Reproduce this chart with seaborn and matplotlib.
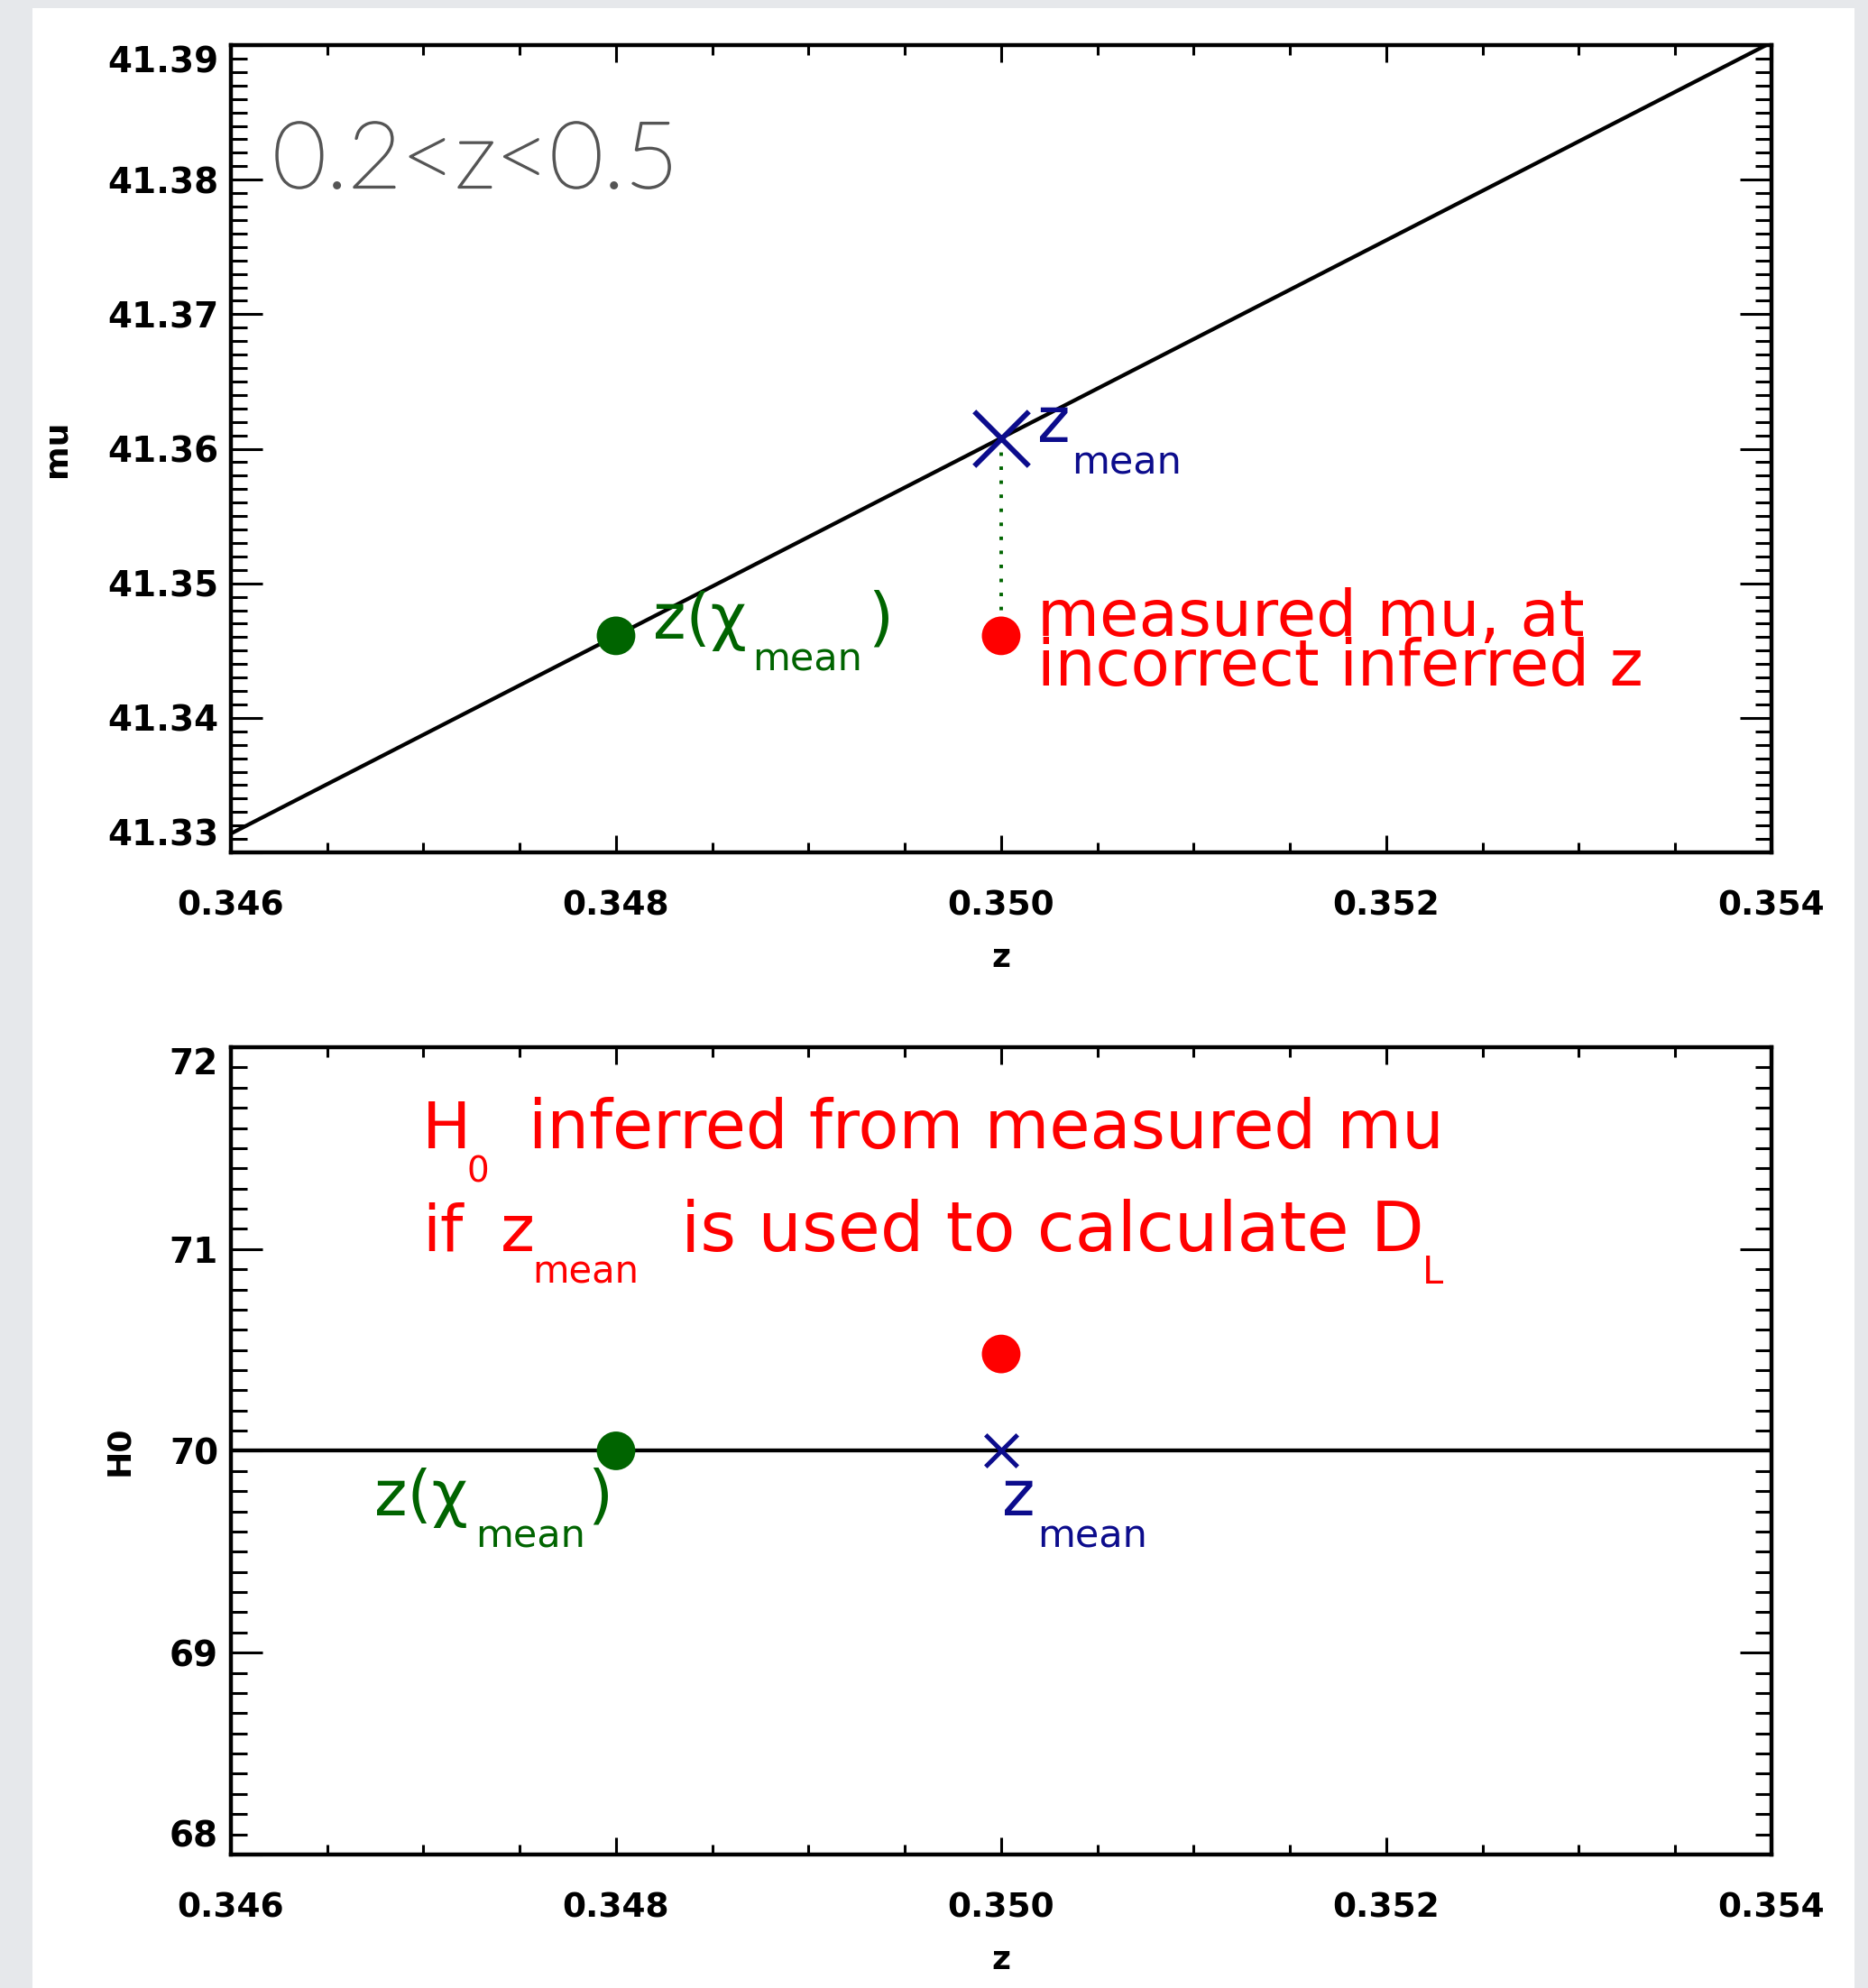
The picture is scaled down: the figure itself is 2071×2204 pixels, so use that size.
import matplotlib
matplotlib.use("Agg")
import matplotlib.pyplot as plt
import matplotlib.ticker as mticker
import matplotlib.patheffects as pe
from matplotlib.patches import Rectangle
import seaborn as sns

# data
z_ticks = [0.346, 0.348, 0.350, 0.352, 0.354]
mu_ticks = [41.33, 41.34, 41.35, 41.36, 41.37, 41.38, 41.39]
h0_ticks = [68, 69, 70, 71, 72]

z_line = [0.346, 0.348, 0.350, 0.352, 0.354]
mu_line = [41.3314, 41.3461, 41.3608, 41.3755, 41.3902]
h0_line = [70.0, 70.0, 70.0, 70.0, 70.0]

z_chi_mean = 0.348
z_mean = 0.350
mu_chi_mean = 41.3461
mu_zmean = 41.3608
mu_measured = 41.3461

h0_chi_mean = 70.0
h0_zmean = 70.0
h0_measured = 70.48

GREEN = "#006400"
NAVY = "#0c0c8c"
RED = "#ff0000"

plt.rcParams["font.family"] = ["DejaVu Sans"]

fig = plt.figure(figsize=(20.71, 22.04), dpi=100, facecolor="#e6e8eb")
fig.patches.append(Rectangle((36 / 2071, 0), (2056 - 36) / 2071, (2204 - 9) / 2204,
                             transform=fig.transFigure, facecolor="white",
                             edgecolor="none", zorder=-10))

ax1 = fig.add_axes([0.1236, 0.5712, 0.8247, 0.4061])
ax2 = fig.add_axes([0.1236, 0.0672, 0.8247, 0.4060])


def style_axes(ax, yticks, ymin_step, yfmt, xlabel, ylabel):
    ax.set_xlim(z_ticks[0], z_ticks[-1])
    ax.set_ylim(yticks[0], yticks[-1])
    ax.set_xticks(z_ticks)
    ax.set_yticks(yticks)
    ax.xaxis.set_minor_locator(mticker.MultipleLocator(0.0005))
    ax.yaxis.set_minor_locator(mticker.MultipleLocator(ymin_step))
    ax.xaxis.set_major_formatter(mticker.FormatStrFormatter("%.3f"))
    ax.yaxis.set_major_formatter(mticker.FormatStrFormatter(yfmt))
    for s in ax.spines.values():
        s.set_linewidth(3.2)
    ax.tick_params(which="both", direction="in", top=True, right=True, width=2.2)
    ax.tick_params(axis="x", which="major", length=13.5, pad=30, labelsize=27)
    ax.tick_params(axis="x", which="minor", length=8)
    ax.tick_params(axis="y", which="major", length=25, pad=10, labelsize=28)
    ax.tick_params(axis="y", which="minor", length=13)
    for lab in ax.get_xticklabels() + ax.get_yticklabels():
        lab.set_fontweight("bold")
    ax.set_xlabel(xlabel, fontsize=26, fontweight="bold", labelpad=16)
    ax.set_ylabel(ylabel, fontsize=26, fontweight="bold", labelpad=28)
    ticks = ax.yaxis.get_major_ticks()
    ticks[0].label1.set_va("bottom")
    ticks[-1].label1.set_va("top")


# top panel: distance modulus vs redshift
sns.lineplot(x=z_line, y=mu_line, color="black", linewidth=3.1, ax=ax1)
ax1.plot([z_mean, z_mean], [mu_zmean, mu_measured], color=GREEN, linewidth=2.8,
         linestyle=(0, (1, 3)))
sns.scatterplot(x=[z_chi_mean], y=[mu_chi_mean], color=GREEN, s=950,
                edgecolor="none", ax=ax1, zorder=5)
sns.scatterplot(x=[z_mean], y=[mu_measured], color=RED, s=950,
                edgecolor="none", ax=ax1, zorder=5)
sns.scatterplot(x=[z_mean], y=[mu_zmean], color=NAVY, marker="x", s=1900,
                linewidth=4.2, ax=ax1, zorder=5)
style_axes(ax1, mu_ticks, 0.001, "%.2f", "z", "mu")

ax1.text(0.027, 0.8235, "0.2<z<0.5", transform=ax1.transAxes, family="Lato",
         fontweight="light", fontsize=74, color="#555555", va="baseline",
         path_effects=[pe.withStroke(linewidth=1.6, foreground="#555555")])

ax1.text(0.34819, 41.3459, "z(χ", color=GREEN, fontsize=50, va="baseline")
ax1.text(0.34871, 41.3435, "mean", color=GREEN, fontsize=31, va="baseline")
ax1.text(0.34931, 41.3459, ")", color=GREEN, fontsize=52, va="baseline")
ax1.text(0.350187, 41.3605, "z", color=NAVY, fontsize=50, va="baseline")
ax1.text(0.350365, 41.3581, "mean", color=NAVY, fontsize=31, va="baseline")
ax1.text(0.350187, 41.3461, "measured mu, at", color=RED, fontsize=51, va="baseline")
ax1.text(0.350187, 41.3424, "incorrect inferred z", color=RED, fontsize=51,
         va="baseline")

# bottom panel: inferred H0 vs redshift
sns.lineplot(x=z_line, y=h0_line, color="black", linewidth=3.1, ax=ax2)
sns.scatterplot(x=[z_chi_mean], y=[h0_chi_mean], color=GREEN, s=950,
                edgecolor="none", ax=ax2, zorder=5)
sns.scatterplot(x=[z_mean], y=[h0_measured], color=RED, s=950,
                edgecolor="none", ax=ax2, zorder=5)
sns.scatterplot(x=[z_mean], y=[h0_zmean], color=NAVY, marker="x", s=650,
                linewidth=3.6, ax=ax2, zorder=5)
style_axes(ax2, h0_ticks, 0.1, "%.0f", "z", "H0")

ax2.text(0.346994, 71.50, "H", color=RED, fontsize=52, va="baseline")
ax2.text(0.347225, 71.333, "0", color=RED, fontsize=28, va="baseline")
ax2.text(0.347547, 71.50, "inferred from measured mu", color=RED, fontsize=53,
         va="baseline")
ax2.text(0.346994, 70.99, "if", color=RED, fontsize=52, va="baseline")
ax2.text(0.347402, 70.99, "z", color=RED, fontsize=52, va="baseline")
ax2.text(0.347567, 70.83, "mean", color=RED, fontsize=30, va="baseline")
ax2.text(0.348337, 70.99, "is used to calculate D", color=RED, fontsize=55,
         va="baseline")
ax2.text(0.352189, 70.83, "L", color=RED, fontsize=30, va="baseline")

ax2.text(0.346744, 69.679, "z(χ", color=GREEN, fontsize=50, va="baseline")
ax2.text(0.347271, 69.522, "mean", color=GREEN, fontsize=31, va="baseline")
ax2.text(0.347850, 69.679, ")", color=GREEN, fontsize=52, va="baseline")
ax2.text(0.350003, 69.679, "z", color=NAVY, fontsize=50, va="baseline")
ax2.text(0.350187, 69.522, "mean", color=NAVY, fontsize=31, va="baseline")

fig.savefig("out.png", dpi=100, facecolor=fig.get_facecolor())
